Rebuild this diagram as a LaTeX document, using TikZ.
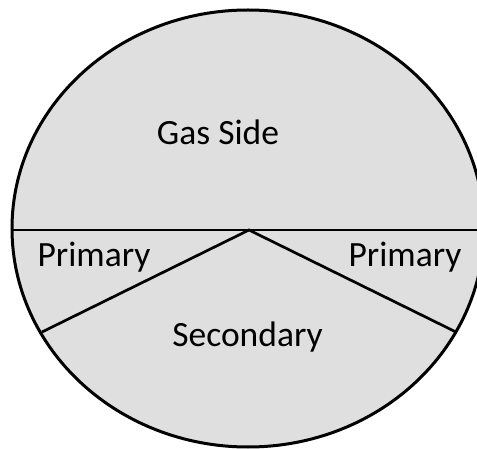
\documentclass[tikz,border=0pt]{standalone}
\usepackage{fontspec}
\setmainfont{Carlito}
\definecolor{regionfill}{HTML}{DFDFDF}
\begin{document}
\begin{tikzpicture}[x=1pt,y=-1pt,
  outline/.style={draw=black,line width=3pt},
  divider/.style={draw=black,line width=2.7pt},
  lbl/.style={font=\fontsize{35.5}{40}\selectfont,anchor=base,inner sep=0pt}]
\useasboundingbox (0,0) rectangle (477,449);
\clip (0,0) rectangle (477,449);
\fill[white] (0,0) rectangle (477,449);
\path[outline,fill=regionfill] (248,228.5) ellipse [x radius=236,y radius=218.5];
\coordinate (apex) at (249,230);
\coordinate (hl) at (12,230);
\coordinate (hr) at (480,230);
\coordinate (ll) at (42,332);
\coordinate (lr) at (456,332);
\draw[divider] (hl) -- (hr);
\draw[divider,line join=miter] (ll) -- (apex) -- (lr);
\node[lbl] (gas) at (218,145) {Gas Side};
\node[lbl] (pl) at (94,267) {Primary};
\node[lbl] (pr) at (405,267) {Primary};
\node[lbl] (sec) at (247.5,347) {Secondary};
\end{tikzpicture}
\end{document}
